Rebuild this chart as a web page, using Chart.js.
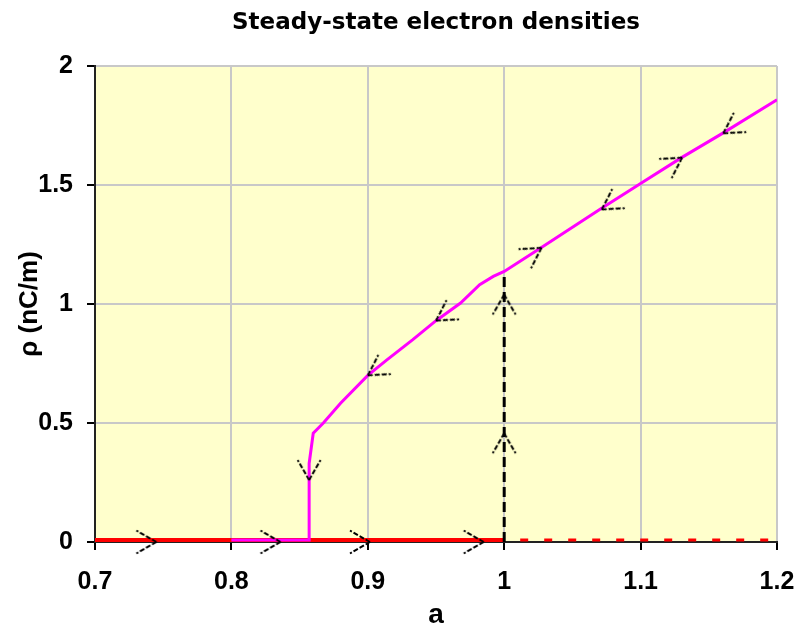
<!DOCTYPE html>
<html>
<head>
<meta charset="utf-8">
<script src="https://cdn.jsdelivr.net/npm/chart.js@4/dist/chart.umd.min.js"></script>
<style>
  body { margin: 0; background: #fff; }
</style>
</head>
<body>
<canvas id="density-chart" width="795" height="630"></canvas>
<script>
// tick labels
const xTicks = [0.7, 0.8, 0.9, 1, 1.1, 1.2];
const yTicks = [0, 0.5, 1, 1.5, 2];

// low-density branch (stable up to a = 1, then unstable)
const lowStable = [[0.7, 0.008], [1.0, 0.008]];
const lowUnstable = [[1.0, 0.008], [1.2, 0.008]];

// high-density branch
const highBranch = [
  [0.8, 0.008], [0.857, 0.008], [0.857, 0.33], [0.86, 0.457], [0.8674, 0.5],
  [0.88, 0.583], [0.9, 0.7], [0.914, 0.765], [0.933, 0.85], [0.95, 0.93],
  [0.968, 1.004], [0.982, 1.081], [0.992, 1.116], [1.0, 1.137], [1.027, 1.236],
  [1.07, 1.397], [1.1, 1.506], [1.13, 1.615], [1.16, 1.717], [1.2, 1.858]
];

// jump from the low branch to the high branch at a = 1
const jumpUp = [[1.0, 0], [1.0, 1.13]];

// arrow tips
const arrowsRight = [[0.745, 0], [0.836, 0], [0.9016, 0], [0.985, 0]];
const arrowsDown = [[0.857, 0.26]];
const arrowsUp = [[1.0, 0.457], [1.0, 1.04]];
const arrowsDownLeft = [[0.9, 0.7], [0.95, 0.93], [1.0715, 1.397], [1.1606, 1.717]];
const arrowsUpRight = [[1.0274, 1.236], [1.1305, 1.615]];

const pts = arr => arr.map(p => ({ x: p[0], y: p[1] }));

// arrowhead picture, tip in the centre, pointing right
const arrowImg = document.createElement('canvas');
arrowImg.width = 50;
arrowImg.height = 50;
(function() {
  const c = arrowImg.getContext('2d');
  c.strokeStyle = '#000';
  c.lineWidth = 2;
  c.setLineDash([5, 2]);
  c.beginPath();
  c.moveTo(25, 25); c.lineTo(5, 13.5);
  c.moveTo(25, 25); c.lineTo(5, 36.5);
  c.stroke();
})();

function arrowSet(data, rotation) {
  return {
    data: pts(data),
    showLine: false,
    pointStyle: arrowImg,
    pointRotation: rotation,
    pointRadius: 3,
    clip: false,
    order: 0,
  };
}

const plotBackground = {
  id: 'plotBackground',
  beforeDraw(chart) {
    const { ctx, chartArea: a } = chart;
    ctx.save();
    ctx.fillStyle = '#ffffff';
    ctx.fillRect(0, 0, chart.width, chart.height);
    ctx.fillStyle = '#ffffcc';
    ctx.fillRect(a.left, a.top, a.right - a.left, a.bottom - a.top);
    ctx.restore();
  }
};

const tickFont = { family: 'Liberation Sans, Arial, sans-serif', size: 25, weight: 'bold' };

new Chart(document.getElementById('density-chart'), {
  type: 'scatter',
  data: {
    datasets: [
      arrowSet(arrowsRight, 0),
      arrowSet(arrowsDown, 90),
      arrowSet(arrowsUp, -90),
      arrowSet(arrowsDownLeft, 147),
      arrowSet(arrowsUpRight, -33),
      {
        data: pts(highBranch),
        showLine: true,
        borderColor: '#ff00ff',
        borderWidth: 3,
        pointRadius: 0,
        order: 1,
      },
      {
        data: pts(jumpUp),
        showLine: true,
        borderColor: '#000000',
        borderWidth: 3,
        borderDash: [10, 5],
        pointRadius: 0,
        order: 2,
      },
      {
        data: pts(lowStable),
        showLine: true,
        borderColor: '#ff0000',
        borderWidth: 4,
        pointRadius: 0,
        order: 3,
      },
      {
        data: pts(lowUnstable),
        showLine: true,
        borderColor: '#ff0000',
        borderWidth: 3,
        borderDash: [8, 16],
        borderDashOffset: 8,
        pointRadius: 0,
        order: 3,
      },
    ]
  },
  options: {
    responsive: false,
    animation: false,
    layout: { padding: { left: 0, right: 18, top: 0, bottom: 0 } },
    plugins: {
      legend: { display: false },
      tooltip: { enabled: false },
      title: {
        display: true,
        text: 'Steady-state electron densities',
        fullSize: false,
        color: '#000',
        font: { family: 'DejaVu Sans', size: 23, weight: 'bold' },
        padding: { top: 9, bottom: 29.4 },
      },
    },
    scales: {
      x: {
        type: 'linear',
        min: 0.7,
        max: 1.2,
        afterBuildTicks: s => { s.ticks = xTicks.map(v => ({ value: v })); },
        afterFit: s => { s.height = 88; s.paddingLeft = 0; s.paddingRight = 0; },
        ticks: { color: '#000', font: tickFont, padding: 17, callback: v => String(v) },
        grid: { color: '#c8c8c8', lineWidth: 2, tickLength: 8, tickColor: '#000', tickWidth: 2 },
        border: { color: '#222', width: 2 },
        title: {
          display: true,
          text: 'a',
          color: '#000',
          font: { family: 'Liberation Sans, Arial, sans-serif', size: 28, weight: 'bold', lineHeight: 1 },
          padding: { top: 0, bottom: 1 },
        },
      },
      y: {
        type: 'linear',
        min: 0,
        max: 2,
        afterBuildTicks: s => { s.ticks = yTicks.map(v => ({ value: v })); },
        afterFit: s => { s.width = 95; },
        ticks: { color: '#000', font: tickFont, padding: 14, callback: v => String(v) },
        grid: { color: '#c8c8c8', lineWidth: 2, tickLength: 8, tickColor: '#000', tickWidth: 2 },
        border: { color: '#222', width: 2 },
        title: {
          display: true,
          text: 'ρ (nC/m)',
          color: '#000',
          font: { family: 'Liberation Sans, Arial, sans-serif', size: 26, weight: 'bold' },
          padding: { top: 14, bottom: 0 },
        },
      },
    },
  },
  plugins: [plotBackground],
});
</script>
</body>
</html>
